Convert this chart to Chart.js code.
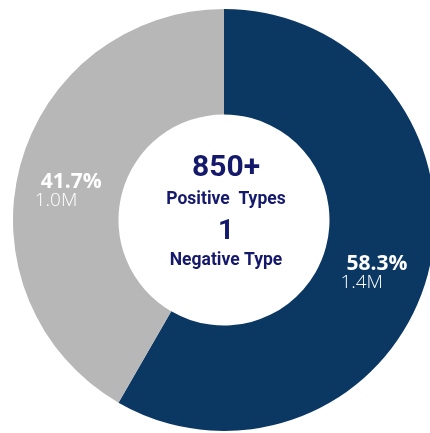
<!DOCTYPE html>
<html lang="en">
<head>
    <meta charset="UTF-8">
    <title>Type Split</title>
    <script src="https://cdn.jsdelivr.net/npm/chart.js"></script>
    <style>
        html, body { margin: 0; padding: 0; background: #fff; overflow: hidden; }
        #wrap { position: relative; width: 430px; height: 433px; overflow: hidden; }
        #typeChart { position: absolute; left: 0; top: 0; }
    </style>
</head>
<body>
    <div id="wrap">
        <canvas id="typeChart" width="448" height="440"></canvas>
    </div>

    <script>
        // Slice data (millions)
        const categories = ['Positive', 'Negative'];
        const counts = [1.4, 1.0];
        const countLabels = ['1.4M', '1.0M'];
        const sliceColors = ['#0b3763', '#b7b7b7'];

        // Text shown in the hole
        const centerLines = [
            { text: '850+', font: 'bold 30px Roboto', dy: -52 },
            { text: 'Positive  Types', font: 'bold 17.5px Roboto', dy: -20 },
            { text: '1', font: 'bold 28px Roboto', dy: 12 },
            { text: 'Negative Type', font: 'bold 17.5px Roboto', dy: 41 }
        ];

        // Percent + count written inside each slice
        const sliceLabels = {
            id: 'sliceLabels',
            afterDatasetsDraw(chart) {
                const ctx = chart.ctx;
                const meta = chart.getDatasetMeta(0);
                const total = counts.reduce((a, b) => a + b, 0);
                ctx.save();
                ctx.fillStyle = '#ffffff';
                ctx.textBaseline = 'middle';
                meta.data.forEach((arc, i) => {
                    const pos = arc.tooltipPosition();
                    const pct = (counts[i] / total * 100).toFixed(1) + '%';
                    ctx.font = 'bold 21px "Open Sans"';
                    ctx.textAlign = 'center';
                    ctx.fillText(pct, pos.x, pos.y + 3);
                    const w = ctx.measureText(pct).width;
                    ctx.font = '300 19px "Open Sans"';
                    ctx.textAlign = 'left';
                    ctx.fillText(countLabels[i], pos.x - w / 2 - 6, pos.y + 22);
                });
                ctx.restore();
            }
        };

        const centerText = {
            id: 'centerText',
            afterDraw(chart) {
                const ctx = chart.ctx;
                const arc = chart.getDatasetMeta(0).data[0];
                ctx.save();
                ctx.fillStyle = '#14196b';
                ctx.textAlign = 'center';
                ctx.textBaseline = 'middle';
                centerLines.forEach(line => {
                    ctx.font = line.font;
                    ctx.fillText(line.text, arc.x + 2, arc.y + line.dy);
                });
                ctx.restore();
            }
        };

        new Chart(document.getElementById('typeChart'), {
            type: 'doughnut',
            data: {
                labels: categories,
                datasets: [{
                    data: counts,
                    backgroundColor: sliceColors,
                    borderWidth: 0,
                    hoverOffset: 0
                }]
            },
            options: {
                responsive: false,
                animation: false,
                cutout: '50%',
                layout: { padding: { left: 13, right: 13, top: 9, bottom: 9 } },
                plugins: {
                    legend: { display: false },
                    tooltip: { enabled: false }
                }
            },
            plugins: [sliceLabels, centerText]
        });
    </script>
</body>
</html>
